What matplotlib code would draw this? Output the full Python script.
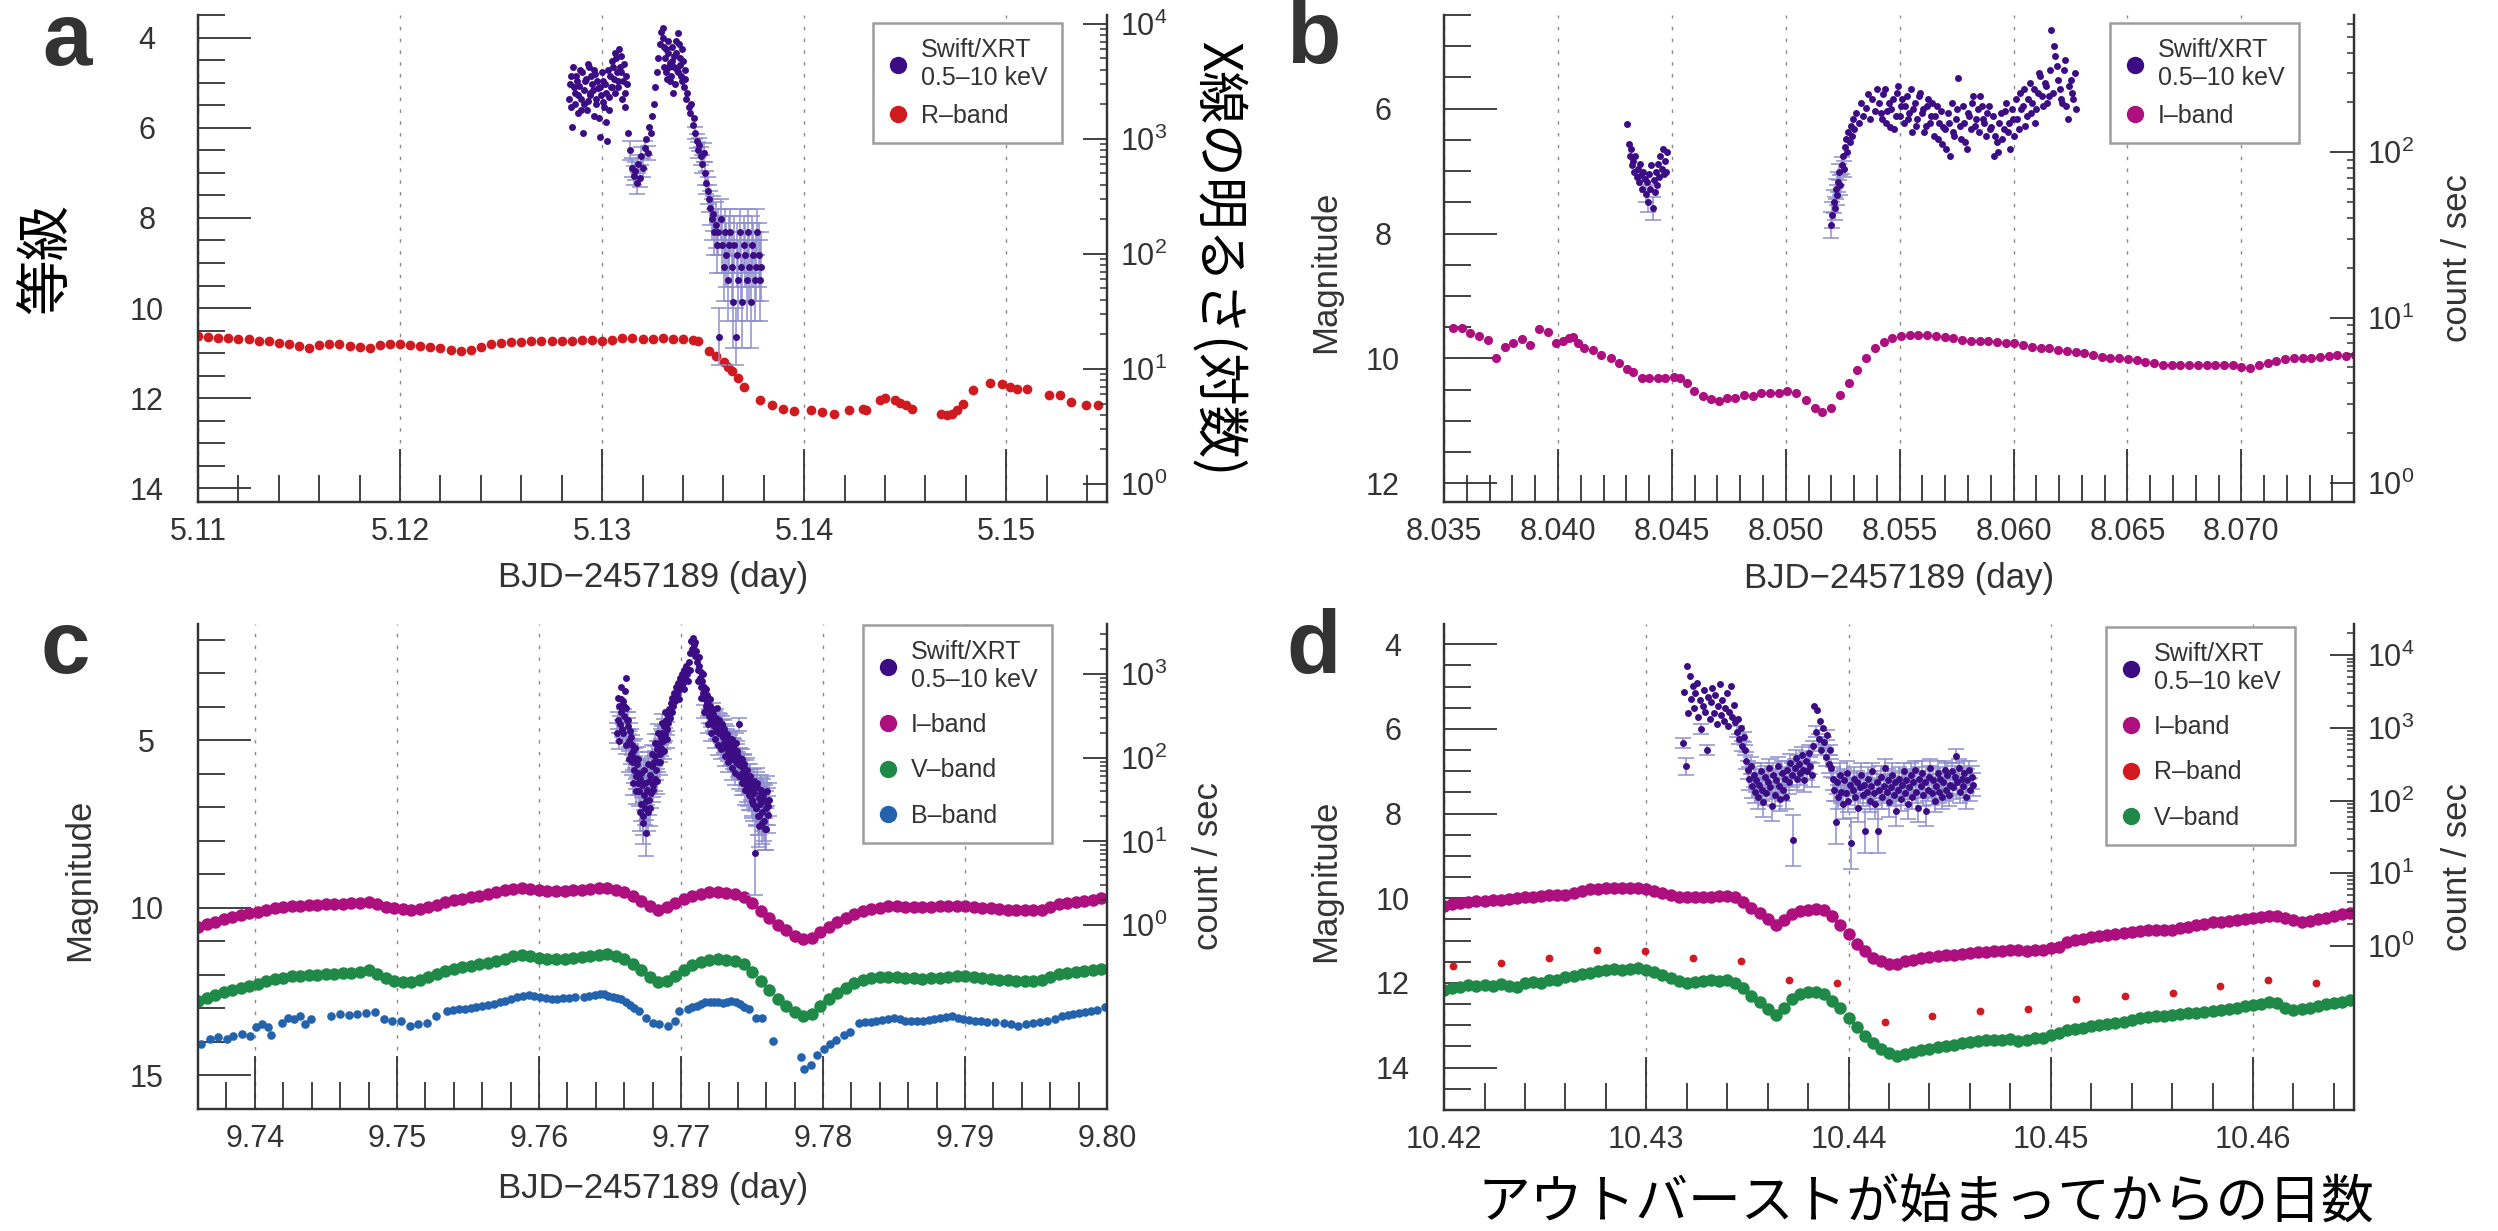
import matplotlib
matplotlib.use('Agg')
import matplotlib.pyplot as plt
import numpy as np
from matplotlib.lines import Line2D
from matplotlib.ticker import (FixedLocator, MultipleLocator, FormatStrFormatter,
                               LogFormatterSciNotation, NullFormatter)

plt.rcParams['font.family'] = ['Liberation Sans', 'DejaVu Sans']
plt.rcParams['mathtext.fontset'] = 'custom'
plt.rcParams['mathtext.rm'] = 'Liberation Sans'
plt.rcParams['mathtext.it'] = 'Liberation Sans:italic'
plt.rcParams['mathtext.bf'] = 'Liberation Sans:bold'
plt.rcParams['mathtext.default'] = 'regular'
JP = ['Noto Sans CJK JP', 'DejaVu Sans']

C_XRT = '#3b0c84'
C_ERR = '#8e8ece'
C_I = '#ad0f7f'
C_R = '#d11a1f'
C_V = '#1f8a48'
C_B = '#2362ad'
INK = '#333333'

# ---------------- panel a : R band + Swift/XRT (log10 count rate, error in dex)
a_R_t = [5.1100, 5.1105, 5.1110, 5.1115, 5.1120, 5.1125, 5.1130, 5.1135, 5.1140, 5.1145,
         5.1150, 5.1155, 5.1160, 5.1165, 5.1170, 5.1175, 5.1180, 5.1185, 5.1190, 5.1195,
         5.1200, 5.1205, 5.1210, 5.1215, 5.1220, 5.1225, 5.1230, 5.1235, 5.1240, 5.1245,
         5.1250, 5.1255, 5.1260, 5.1265, 5.1270, 5.1275, 5.1280, 5.1285, 5.1290, 5.1295,
         5.1300, 5.1305, 5.1310, 5.1315, 5.1320, 5.1325, 5.1330, 5.1335, 5.1340, 5.1345,
         5.13475, 5.13529, 5.13566, 5.13601, 5.13621, 5.13644, 5.13672, 5.13701, 5.13782, 5.13839,
         5.13897, 5.13948, 5.14032, 5.14089, 5.14147, 5.14224, 5.14290, 5.14305, 5.14376, 5.14399,
         5.14448, 5.14477, 5.14506, 5.14534, 5.14678, 5.14707, 5.14730, 5.14759, 5.14787, 5.14836,
         5.14922, 5.14980, 5.15017, 5.15052, 5.15103, 5.15210, 5.15267, 5.15319, 5.15397, 5.15454]
a_R_mag = [10.62, 10.64, 10.66, 10.67, 10.68, 10.69, 10.72, 10.74, 10.77, 10.79,
           10.84, 10.88, 10.82, 10.80, 10.80, 10.83, 10.86, 10.88, 10.81, 10.80,
           10.79, 10.81, 10.84, 10.87, 10.88, 10.92, 10.96, 10.93, 10.86, 10.80,
           10.78, 10.76, 10.75, 10.74, 10.73, 10.73, 10.72, 10.72, 10.71, 10.71,
           10.72, 10.70, 10.67, 10.66, 10.68, 10.68, 10.67, 10.68, 10.69, 10.70,
           10.74, 10.95, 11.06, 11.19, 11.30, 11.40, 11.55, 11.75, 12.04, 12.15,
           12.23, 12.29, 12.26, 12.31, 12.35, 12.25, 12.23, 12.25, 12.04, 12.00,
           12.04, 12.10, 12.15, 12.23, 12.34, 12.36, 12.34, 12.25, 12.12, 11.82,
           11.66, 11.69, 11.76, 11.80, 11.80, 11.93, 11.93, 12.09, 12.15, 12.15]

a_xrt_t = [5.12835, 5.12845, 5.12852, 5.12860, 5.12868, 5.12875, 5.12882, 5.12890, 5.12898, 5.12905,
           5.12912, 5.12920, 5.12928, 5.12935, 5.12942, 5.12950, 5.12958, 5.12965, 5.12972, 5.12980,
           5.12988, 5.12995, 5.13002, 5.13010, 5.13018, 5.13025, 5.13032, 5.13040, 5.13048, 5.13055,
           5.13062, 5.13070, 5.13078, 5.13085, 5.13092, 5.13100, 5.13108, 5.13115, 5.13122,
           5.13128, 5.13138, 5.13148, 5.13158, 5.13165, 5.13172, 5.13180, 5.13187, 5.13195, 5.13202,
           5.13210, 5.13218, 5.13225, 5.13232, 5.13240, 5.13248, 5.13255, 5.13262, 5.13270, 5.13278,
           5.13285, 5.13292, 5.13299,
           5.13305, 5.13312, 5.13318, 5.13325, 5.13332, 5.13338, 5.13345, 5.13352, 5.13358, 5.13365,
           5.13372, 5.13378, 5.13385, 5.13392, 5.13398, 5.13405, 5.13412, 5.13420, 5.13428,
           5.13435, 5.13442, 5.13448, 5.13455, 5.13462, 5.13468, 5.13475, 5.13482, 5.13488, 5.13495,
           5.13502, 5.13508, 5.13515, 5.13522, 5.13528,
           5.13535, 5.13542, 5.13548, 5.13555, 5.13562, 5.13568, 5.13575, 5.13580, 5.13588, 5.13595,
           5.13602, 5.13608, 5.13615, 5.13622, 5.13628, 5.13635, 5.13642, 5.13648, 5.13655, 5.13661,
           5.13668, 5.13675, 5.13682, 5.13688, 5.13695, 5.13702, 5.13708, 5.13715, 5.13722, 5.13728,
           5.13735, 5.13742, 5.13748, 5.13755, 5.13762, 5.13768, 5.13775, 5.13782, 5.13788]
a_xrt_log = [3.35, 3.55, 3.10, 3.45, 3.30, 3.50, 3.38, 3.60, 3.25, 3.05,
             3.42, 3.52, 3.33, 3.62, 3.40, 3.48, 3.20, 3.56, 3.30, 3.44,
             3.02, 3.38, 3.50, 3.28, 3.15, 2.98, 3.36, 3.55, 3.45, 3.62,
             3.40, 3.70, 3.50, 3.78, 3.58, 3.35, 3.65, 3.28, 3.48,
             3.05, 2.90, 2.75, 2.68, 2.72, 2.62, 2.78, 2.66, 2.85, 2.75,
             2.92, 3.00, 2.88, 3.10, 3.05, 3.20, 3.30, 3.45, 3.58, 3.70,
             3.82, 3.93, 3.96,
             3.80, 3.70, 3.58, 3.75, 3.62, 3.50, 3.68, 3.40, 3.72, 3.85,
             3.60, 3.92, 3.70, 3.55, 3.78, 3.45, 3.60, 3.40, 3.28,
             3.22, 3.30, 3.12, 3.18, 3.05, 2.98, 2.90, 2.95, 2.85, 2.78,
             2.88, 2.70, 2.62, 2.55, 2.48,
             2.40, 2.30, 2.35, 2.19, 2.25, 2.08, 2.19, 1.28, 2.30, 2.08,
             1.89, 2.19, 1.99, 1.77, 2.08, 2.19, 1.89, 1.58, 2.08, 1.28,
             1.99, 1.77, 2.19, 1.89, 1.58, 2.08, 1.99, 1.77, 2.19, 1.89,
             1.58, 2.08, 1.99, 1.77, 1.89, 2.19, 1.99, 1.77, 1.89]
a_xrt_err = [0] * 39 + [
             0, .08, .08, .08, .08, .10, .08, .08, .08, .08,
             .06, 0, .06, 0, 0, 0, 0, 0, 0, 0,
             0, 0, 0] + [0] * 19 + [
             0, 0, 0, 0, .05, .06, .07, .06, .08, .08,
             .08, .10, .10, .12, .12,
             .15, .18, .15, .20, .20, .25, .20, .25, .18, .25,
             .30, .20, .28, .35, .25, .20, .30, .40, .25, .25,
             .28, .35, .20, .30, .40, .25, .28, .35, .20, .30,
             .40, .25, .28, .35, .30, .20, .28, .35, .30]
# second read of the densest (bright) part of the panel-a cloud
a_xrt2_t = [5.12840, 5.12848, 5.12856, 5.12864, 5.12871, 5.12879, 5.12886, 5.12894, 5.12901, 5.12909,
            5.12916, 5.12924, 5.12931, 5.12939, 5.12946, 5.12954, 5.12961, 5.12969, 5.12976, 5.12984,
            5.12991, 5.12999, 5.13006, 5.13014, 5.13021, 5.13029, 5.13036, 5.13044, 5.13051, 5.13059,
            5.13066, 5.13074, 5.13081, 5.13089, 5.13096, 5.13104, 5.13111, 5.13119,
            5.13302, 5.13308, 5.13315, 5.13322, 5.13328, 5.13335, 5.13342, 5.13348, 5.13355, 5.13362,
            5.13368, 5.13375, 5.13382, 5.13388, 5.13395, 5.13402, 5.13408, 5.13415]
a_xrt2_log = [3.48, 3.28, 3.62, 3.40, 3.55, 3.22, 3.46, 3.35, 3.58, 3.30,
              3.50, 3.25, 3.65, 3.38, 3.55, 3.42, 3.60, 3.35, 3.50, 3.18,
              3.45, 3.58, 3.32, 3.48, 3.40, 3.60, 3.25, 3.45, 3.68, 3.52,
              3.75, 3.58, 3.45, 3.62, 3.72, 3.50, 3.40, 3.55,
              3.88, 3.62, 3.78, 3.52, 3.85, 3.66, 3.55, 3.80, 3.62, 3.48,
              3.75, 3.58, 3.82, 3.64, 3.50, 3.68, 3.52, 3.35]
a_xrt2_err = [0] * 56

# ---------------- panel b : I band + Swift/XRT
b_I_t = [8.03538, 8.03577, 8.03615, 8.03653, 8.03692, 8.03730, 8.03766, 8.03804, 8.03840, 8.03878,
         8.03916, 8.03955, 8.03993, 8.04024, 8.04049, 8.04067, 8.04088, 8.04113, 8.04152, 8.04190,
         8.04233, 8.04266, 8.04305, 8.04330, 8.04369, 8.04399, 8.04438, 8.04471, 8.04509, 8.04535,
         8.04568, 8.04599, 8.04637, 8.04670, 8.04706, 8.04744, 8.04777, 8.04816, 8.04854, 8.04892,
         8.04931, 8.04969, 8.05007, 8.05046, 8.05089, 8.05127, 8.05161, 8.05199, 8.05237, 8.05276,
         8.05314, 8.05352, 8.05391, 8.05429, 8.05467, 8.05506, 8.05544, 8.05582, 8.05621, 8.05659,
         8.05697, 8.05736, 8.05774, 8.05812, 8.05851, 8.05889, 8.05927, 8.05965, 8.06004, 8.06042,
         8.06080, 8.06119, 8.06157, 8.06195, 8.06234, 8.06272, 8.06310, 8.06349, 8.06387, 8.06425,
         8.06464, 8.06502, 8.06540, 8.06579, 8.06617, 8.06655, 8.06694, 8.06732, 8.06770, 8.06809,
         8.06847, 8.06885, 8.06924, 8.06962, 8.07000, 8.07039, 8.07077, 8.07115, 8.07154, 8.07192,
         8.07230, 8.07269, 8.07307, 8.07345, 8.07384, 8.07422, 8.07460, 8.07498]
b_I_mag = [9.51, 9.52, 9.60, 9.64, 9.71, 10.00, 9.82, 9.76, 9.69, 9.79,
           9.53, 9.57, 9.75, 9.72, 9.68, 9.65, 9.76, 9.83, 9.87, 9.95,
           10.00, 10.08, 10.17, 10.22, 10.31, 10.31, 10.32, 10.31, 10.29, 10.32,
           10.40, 10.52, 10.60, 10.65, 10.69, 10.64, 10.63, 10.59, 10.60, 10.56,
           10.56, 10.55, 10.53, 10.56, 10.67, 10.79, 10.86, 10.79, 10.59, 10.40,
           10.19, 9.99, 9.84, 9.74, 9.68, 9.64, 9.63, 9.63, 9.63, 9.64,
           9.66, 9.68, 9.71, 9.72, 9.72, 9.72, 9.73, 9.75, 9.76, 9.79,
           9.81, 9.83, 9.84, 9.87, 9.88, 9.89, 9.92, 9.95, 9.97, 9.99,
           10.00, 10.01, 10.03, 10.05, 10.08, 10.10, 10.11, 10.11, 10.11, 10.11,
           10.10, 10.11, 10.10, 10.11, 10.13, 10.15, 10.11, 10.08, 10.04, 10.01,
           10.00, 9.99, 9.99, 9.97, 9.96, 9.95, 9.96, 9.95]

b_xrt_t = [8.04305, 8.04310, 8.04315, 8.04320, 8.04325, 8.04330, 8.04335, 8.04340, 8.04345, 8.04350,
           8.04355, 8.04360, 8.04365, 8.04370, 8.04375, 8.04380, 8.04385, 8.04390, 8.04395, 8.04400,
           8.04405, 8.04410, 8.04415, 8.04420, 8.04425, 8.04430, 8.04435, 8.04440, 8.04445, 8.04450,
           8.04455, 8.04460, 8.04465, 8.04470, 8.04475, 8.04480,
           8.05200, 8.05205, 8.05210, 8.05215, 8.05220, 8.05225, 8.05230, 8.05235, 8.05240, 8.05245,
           8.05250, 8.05255, 8.05260, 8.05265, 8.05270, 8.05275, 8.05280, 8.05285, 8.05290, 8.05295,
           8.05300, 8.05310, 8.05320, 8.05330, 8.05340, 8.05350, 8.05360, 8.05370, 8.05380, 8.05390,
           8.05400,
           8.05410, 8.05422, 8.05434, 8.05446, 8.05458, 8.05470, 8.05482, 8.05494, 8.05506, 8.05518,
           8.05530, 8.05542, 8.05554, 8.05566, 8.05578, 8.05590, 8.05602, 8.05614, 8.05626, 8.05638,
           8.05650, 8.05662, 8.05674, 8.05686, 8.05698, 8.05710, 8.05722, 8.05734, 8.05746, 8.05758,
           8.05770, 8.05782, 8.05794, 8.05806, 8.05818, 8.05830, 8.05842, 8.05854, 8.05866, 8.05878,
           8.05890, 8.05902, 8.05914, 8.05926, 8.05938, 8.05950, 8.05962, 8.05974, 8.05986, 8.05998,
           8.06010, 8.06022, 8.06034, 8.06046, 8.06058, 8.06070, 8.06082, 8.06094, 8.06106, 8.06118,
           8.06130, 8.06142, 8.06154, 8.06166, 8.06178, 8.06190, 8.06202, 8.06214, 8.06226, 8.06238,
           8.06250, 8.06262, 8.06274]
b_xrt_log = [2.17, 2.05, 1.98, 2.02, 1.92, 1.95, 1.88, 1.98, 1.85, 1.90,
             1.82, 1.93, 1.86, 1.78, 1.88, 1.84, 1.75, 1.82, 1.70, 1.87,
             1.78, 1.92, 1.66, 1.83, 1.76, 1.88, 1.80, 1.93, 1.85, 1.98,
             1.90, 2.02, 1.87, 1.95, 1.88, 2.00,
             1.56, 1.62, 1.70, 1.66, 1.78, 1.74, 1.82, 1.88, 1.80, 1.92,
             1.98, 1.90, 2.03, 2.08, 2.00, 2.12, 2.06, 2.16, 2.10, 2.20,
             2.14, 2.24, 2.18, 2.30, 2.22, 2.27, 2.35, 2.20, 2.32, 2.25,
             2.38,
             2.30, 2.20, 2.38, 2.25, 2.15, 2.32, 2.22, 2.40, 2.28, 2.18,
             2.34, 2.24, 2.12, 2.30, 2.20, 2.36, 2.26, 2.16, 2.32, 2.22,
             2.10, 2.28, 2.18, 2.05, 2.14, 2.24, 1.98, 2.12, 2.20, 2.45,
             2.08, 2.18, 2.02, 2.22, 2.30, 2.16, 2.26, 2.34, 2.20, 2.10,
             2.28, 2.15, 1.98, 2.06, 2.18, 2.08, 2.25, 2.12, 2.02, 2.20,
             2.32, 2.14, 2.26, 2.38, 2.22, 2.42, 2.30, 2.18, 2.36, 2.46,
             2.28, 2.40, 2.34, 2.74, 2.64, 2.52, 2.38, 2.30, 2.56, 2.20,
             2.44, 2.32, 2.26]
b_xrt_err = [0] * 16 + [.05, 0, .06, 0, 0, 0, .07] + [0] * 13 + [
             .08, .08, .07, .07, .06, .06, .06, .05, .06, .05, 0, .05] + [0] * 19 + [0] * 73
# second read of the plateau cloud
b_xrt2_t = [8.05416, 8.05428, 8.05440, 8.05452, 8.05464, 8.05476, 8.05488, 8.05500, 8.05512, 8.05524,
            8.05536, 8.05548, 8.05560, 8.05572, 8.05584, 8.05596, 8.05608, 8.05620, 8.05632, 8.05644,
            8.05656, 8.05668, 8.05680, 8.05692, 8.05704, 8.05716, 8.05728, 8.05740, 8.05752, 8.05764,
            8.05776, 8.05788, 8.05800, 8.05812, 8.05824, 8.05836, 8.05848, 8.05860, 8.05872, 8.05884,
            8.05896, 8.05908, 8.05920, 8.05932, 8.05944, 8.05956, 8.05968, 8.05980, 8.05992, 8.06004,
            8.06016, 8.06028, 8.06040, 8.06052, 8.06064, 8.06076, 8.06088, 8.06100, 8.06112, 8.06124,
            8.06136, 8.06148, 8.06160, 8.06172, 8.06184, 8.06196, 8.06208, 8.06220, 8.06232, 8.06244,
            8.06256, 8.06268]
b_xrt2_log = [2.24, 2.35, 2.18, 2.30, 2.26, 2.14, 2.36, 2.22, 2.32, 2.28,
              2.20, 2.38, 2.26, 2.16, 2.34, 2.24, 2.12, 2.28, 2.18, 2.30,
              2.22, 2.08, 2.25, 2.15, 2.02, 2.18, 2.30, 2.10, 2.26, 2.16,
              2.28, 2.06, 2.24, 2.14, 2.34, 2.20, 2.12, 2.28, 2.18, 2.24,
              2.14, 2.22, 2.10, 2.00, 2.24, 2.14, 2.30, 2.18, 2.26, 2.10,
              2.20, 2.36, 2.28, 2.16, 2.32, 2.24, 2.38, 2.26, 2.48, 2.34,
              2.42, 2.30, 2.50, 2.36, 2.58, 2.44, 2.32, 2.50, 2.28, 2.40,
              2.36, 2.48]
b_xrt2_err = [0] * 72

# ---------------- panel c : I, V, B bands + Swift/XRT
c_t = [9.7360, 9.7366, 9.7372, 9.7378, 9.7384, 9.7390, 9.7396, 9.7402, 9.7408, 9.7414,
       9.7420, 9.7426, 9.7432, 9.7438, 9.7444, 9.7450, 9.7456, 9.7462, 9.7468, 9.7474,
       9.7480, 9.7486, 9.7492, 9.7498, 9.7504, 9.7510, 9.7516, 9.7522, 9.7528, 9.7534,
       9.7540, 9.7546, 9.7552, 9.7558, 9.7564, 9.7570, 9.7576, 9.7582, 9.7588, 9.7594,
       9.7600, 9.7606, 9.7612, 9.7618, 9.7624, 9.7630, 9.7636, 9.7642, 9.7648, 9.7654,
       9.7660, 9.7666, 9.7672, 9.7678, 9.7684, 9.7690, 9.7696, 9.7702, 9.7708, 9.7714,
       9.7720, 9.7726, 9.7732, 9.7738, 9.7744, 9.7750, 9.7756, 9.7762, 9.7768, 9.7774,
       9.7780, 9.7786, 9.7792, 9.7798, 9.7804, 9.7810, 9.7816, 9.7822, 9.7828, 9.7834,
       9.7840, 9.7846, 9.7852, 9.7858, 9.7864, 9.7870, 9.7876, 9.7882, 9.7888, 9.7894,
       9.7900, 9.7906, 9.7912, 9.7918, 9.7924, 9.7930, 9.7936, 9.7942, 9.7948, 9.7954,
       9.7960, 9.7966, 9.7972, 9.7978, 9.7984, 9.7990, 9.7996]
c_I_mag = [10.56, 10.49, 10.41, 10.34, 10.26, 10.21, 10.16, 10.12, 10.06, 10.00,
           9.97, 9.95, 9.93, 9.91, 9.90, 9.89, 9.88, 9.88, 9.86, 9.85,
           9.83, 9.88, 9.96, 10.00, 10.03, 10.07, 10.03, 9.98, 9.90, 9.82,
           9.77, 9.72, 9.68, 9.64, 9.60, 9.54, 9.48, 9.44, 9.41, 9.43,
           9.46, 9.49, 9.51, 9.49, 9.47, 9.46, 9.44, 9.42, 9.42, 9.47,
           9.53, 9.65, 9.79, 9.94, 10.06, 9.98, 9.85, 9.73, 9.64, 9.58,
           9.54, 9.53, 9.55, 9.58, 9.67, 9.86, 10.10, 10.30, 10.50, 10.67,
           10.83, 10.93, 10.90, 10.72, 10.56, 10.41, 10.29, 10.18, 10.10, 10.03,
           9.99, 9.95, 9.94, 9.96, 9.97, 9.97, 9.96, 9.95, 9.93, 9.94,
           9.95, 9.97, 9.99, 10.01, 10.03, 10.05, 10.06, 10.07, 10.06, 10.05,
           9.97, 9.89, 9.85, 9.81, 9.78, 9.75, 9.70]
c_V_mag = [12.77, 12.69, 12.60, 12.52, 12.44, 12.39, 12.33, 12.27, 12.19, 12.12,
           12.08, 12.04, 12.02, 12.01, 12.00, 11.98, 11.96, 11.95, 11.93, 11.91,
           11.86, 11.98, 12.10, 12.17, 12.20, 12.21, 12.16, 12.07, 11.98, 11.88,
           11.83, 11.77, 11.72, 11.68, 11.65, 11.58, 11.51, 11.45, 11.40, 11.44,
           11.49, 11.52, 11.53, 11.51, 11.48, 11.46, 11.44, 11.41, 11.39, 11.45,
           11.52, 11.66, 11.86, 12.05, 12.21, 12.18, 12.03, 11.86, 11.70, 11.61,
           11.56, 11.53, 11.54, 11.57, 11.68, 11.90, 12.18, 12.45, 12.72, 12.92,
           13.10, 13.23, 13.16, 12.92, 12.73, 12.53, 12.38, 12.25, 12.16, 12.10,
           12.05, 12.05, 12.07, 12.08, 12.10, 12.11, 12.10, 12.08, 12.06, 12.04,
           12.03, 12.06, 12.09, 12.11, 12.14, 12.16, 12.17, 12.18, 12.17, 12.16,
           12.07, 11.98, 11.95, 11.92, 11.89, 11.86, 11.83]
c_B_t = [9.73620, 9.73682, 9.73743, 9.73804, 9.73845, 9.73906, 9.73967, 9.74008, 9.74049, 9.74090,
         9.74110, 9.74192, 9.74233, 9.74273, 9.74314, 9.74355, 9.74396, 9.74539, 9.74600, 9.74661,
         9.74722, 9.74784, 9.74845, 9.74906, 9.74967, 9.75029, 9.75090, 9.75151, 9.75212, 9.75273,
         9.75355, 9.75437, 9.75518, 9.75600, 9.75682, 9.75763, 9.75845, 9.75927, 9.76008, 9.76090,
         9.76171, 9.76253, 9.76314, 9.76396, 9.76457, 9.76518, 9.76580, 9.76641, 9.76702, 9.76751,
         9.76804, 9.76845, 9.76906, 9.76955, 9.76988, 9.77049, 9.77110, 9.77171, 9.77233, 9.77294,
         9.77355, 9.77416, 9.77478, 9.77527, 9.77567, 9.77649, 9.77845, 9.77865, 9.77918, 9.77959,
         9.78008, 9.78049, 9.78090, 9.78151, 9.78192, 9.78253, 9.78335, 9.78416, 9.78498, 9.78580,
         9.78661, 9.78743, 9.78824, 9.78906, 9.78988, 9.79069, 9.79151, 9.79273, 9.79376, 9.79478,
         9.79580, 9.79682, 9.79763, 9.79845, 9.79927, 9.79988,
         9.75396, 9.75478, 9.75559, 9.75641, 9.75723, 9.75804, 9.75886, 9.75967, 9.76049, 9.76130,
         9.76212, 9.76355, 9.76427, 9.76488, 9.76549, 9.76610, 9.76672, 9.77080, 9.77141, 9.77202,
         9.77263, 9.77325, 9.77386, 9.77447, 9.78294, 9.78376, 9.78457, 9.78539, 9.78620, 9.78702,
         9.78784, 9.78865, 9.78947, 9.79029, 9.79110, 9.79212, 9.79325, 9.79427, 9.79529, 9.79631,
         9.79722, 9.79804, 9.79886]
c_B_mag = [14.06, 13.91, 13.86, 13.91, 13.81, 13.76, 13.81, 13.56, 13.47, 13.56,
           13.79, 13.42, 13.27, 13.32, 13.23, 13.47, 13.32, 13.23, 13.18, 13.21,
           13.18, 13.14, 13.12, 13.32, 13.37, 13.37, 13.51, 13.47, 13.42, 13.23,
           13.07, 13.02, 13.00, 12.92, 12.87, 12.77, 12.67, 12.60, 12.67, 12.72,
           12.70, 12.67, 12.67, 12.60, 12.57, 12.67, 12.72, 12.90, 13.07, 13.27,
           13.42, 13.47, 13.51, 13.37, 13.07, 13.02, 12.92, 12.82, 12.80, 12.84,
           12.77, 12.87, 13.02, 13.27, 13.27, 13.96, 14.46, 14.80, 14.70, 14.39,
           14.21, 14.06, 13.93, 13.79, 13.71, 13.42, 13.40, 13.34, 13.27, 13.37,
           13.37, 13.34, 13.27, 13.24, 13.31, 13.37, 13.40, 13.42, 13.51, 13.42,
           13.37, 13.24, 13.18, 13.12, 13.04, 12.97,
           13.05, 13.01, 12.96, 12.90, 12.82, 12.72, 12.63, 12.64, 12.70, 12.71,
           12.69, 12.64, 12.58, 12.62, 12.70, 12.80, 12.98, 12.97, 12.87, 12.81,
           12.82, 12.80, 12.82, 12.95, 13.41, 13.37, 13.30, 13.32, 13.37, 13.36,
           13.30, 13.25, 13.28, 13.34, 13.38, 13.41, 13.47, 13.47, 13.40, 13.30,
           13.21, 13.15, 13.08]

c_xrt_t = [9.76550, 9.76556, 9.76562, 9.76568, 9.76574, 9.76580, 9.76586, 9.76592, 9.76598, 9.76604,
           9.76610, 9.76616, 9.76622, 9.76628, 9.76634, 9.76640, 9.76646, 9.76652, 9.76658, 9.76664,
           9.76670, 9.76676, 9.76682, 9.76688, 9.76694, 9.76700, 9.76706, 9.76712, 9.76718, 9.76724,
           9.76730, 9.76736, 9.76742, 9.76748, 9.76754, 9.76760, 9.76766, 9.76772, 9.76778, 9.76784,
           9.76790, 9.76796, 9.76802, 9.76808, 9.76814, 9.76820, 9.76826, 9.76832, 9.76838, 9.76844,
           9.76850, 9.76856, 9.76862, 9.76868, 9.76874, 9.76880, 9.76886, 9.76892, 9.76898, 9.76904,
           9.76910, 9.76916, 9.76922, 9.76928, 9.76934, 9.76940, 9.76946, 9.76952, 9.76958, 9.76964,
           9.76970, 9.76976, 9.76982, 9.76988, 9.76994, 9.77000, 9.77006, 9.77012, 9.77018, 9.77024,
           9.77030, 9.77036, 9.77042, 9.77048, 9.77054, 9.77060, 9.77066, 9.77072, 9.77078, 9.77084,
           9.77090, 9.77096, 9.77102, 9.77108, 9.77114, 9.77120, 9.77126, 9.77132, 9.77138, 9.77144,
           9.77150, 9.77156, 9.77162, 9.77168, 9.77174, 9.77180, 9.77186, 9.77192, 9.77198, 9.77204,
           9.77210, 9.77216, 9.77222, 9.77228, 9.77234, 9.77240, 9.77246, 9.77252, 9.77258, 9.77264,
           9.77270, 9.77276, 9.77282, 9.77288, 9.77294, 9.77300, 9.77306, 9.77312, 9.77318, 9.77324,
           9.77330, 9.77336, 9.77342, 9.77348, 9.77354, 9.77360, 9.77366, 9.77372, 9.77378, 9.77384,
           9.77390, 9.77396, 9.77402, 9.77408, 9.77414, 9.77420, 9.77426, 9.77432, 9.77438, 9.77444,
           9.77450, 9.77456, 9.77462, 9.77468, 9.77474, 9.77480, 9.77486, 9.77492, 9.77498, 9.77504,
           9.77510, 9.77516, 9.77522, 9.77528, 9.77534, 9.77540, 9.77546, 9.77552, 9.77558, 9.77564,
           9.77570, 9.77576, 9.77582, 9.77588, 9.77594, 9.77600, 9.77606, 9.77612, 9.77618]
c_xrt_log = [2.30, 2.45, 2.62, 2.40, 2.70, 2.55, 2.35, 2.68, 2.50, 2.80, 2.60, 2.95, 2.45,
             2.38, 2.20, 2.32, 2.05, 2.15, 1.95, 2.08, 1.85, 2.00, 1.78, 1.92, 1.70, 1.82,
             1.60, 1.75, 1.45, 1.68, 1.30, 1.55, 1.85, 1.40, 1.10, 1.62,
             1.35, 1.72, 1.50, 1.80, 1.58, 1.90, 1.68, 1.95, 1.75, 2.02,
             1.85, 2.10, 1.95, 2.18, 2.05, 2.25, 2.12, 2.30, 2.20, 2.38, 2.28, 2.45, 2.35, 2.52,
             2.42, 2.58, 2.48,
             2.65, 2.55, 2.72, 2.62, 2.78, 2.68, 2.85, 2.75, 2.90, 2.80, 2.70, 2.95, 2.85, 3.00,
             2.90, 2.82, 3.05, 2.95, 3.10, 3.00, 2.92, 3.15, 3.05,
             3.25, 3.40, 3.30, 3.43, 3.35, 3.22, 3.38, 3.28,
             3.15, 3.05, 3.10, 2.95, 3.02, 2.85, 2.92, 2.78, 2.85, 2.70, 2.62, 2.75, 2.65, 2.58,
             2.50, 2.62, 2.45, 2.55, 2.40, 2.52, 2.38, 2.48, 2.32, 2.60, 2.42, 2.30, 2.45, 2.35,
             2.28, 2.40, 2.25,
             2.35, 2.18, 2.30, 2.12, 2.25, 2.08, 2.20, 2.02, 2.15, 2.05, 2.22, 1.98, 2.10, 2.00,
             2.18, 1.95, 2.08, 1.92, 2.40, 2.00,
             1.90, 1.82, 1.98, 1.75, 1.88, 1.70, 1.82, 1.65, 1.78, 1.60, 1.72, 1.55, 1.68, 1.50,
             1.62, 1.45,
             1.58, 0.86, 1.40, 1.70, 1.30, 1.52, 1.18, 1.45, 1.62, 1.35, 1.55, 1.25, 1.48, 1.15,
             1.40, 1.60, 1.32, 1.50]
c_xrt_err = [.12, .10, 0, .10, 0, 0, .10, 0, .08, 0, 0, 0, .10,
             .10, .12, .10, .12, .12, .15, .12, .15, .12, .15, .15, .15, .15,
             .18, .15, .20, .15, .22, .18, .15, .20, .28, .18,
             .22, .15, .18, .15, .18, .12, .15, .12, .15, .12,
             .12, .10, .12, .10, .10, .10, .10, .08, .10, .08, .08, 0, .08, 0,
             0, 0, 0] + [0] * 45 + [
             .08, 0, .08, 0, .08, 0, .10, .08, .10, 0, .08, .10, .08, .10,
             .10, .10, .10,
             .10, .12, .10, .12, .10, .12, .10, .12, .12, .12, .10, .12, .12, .12,
             .12, .12, .12, .15, .08, .12,
             .15, .15, .12, .15, .15, .15, .15, .18, .15, .18, .15, .18, .18, .20,
             .18, .20,
             .18, .50, .20, .18, .22, .20, .25, .20, .18, .22, .20, .25, .20, .25,
             .20, .18, .22, .20]
# second read of the scattered wings of the panel-c cloud
c_xrt2_t = [9.76553, 9.76565, 9.76577, 9.76589, 9.76601, 9.76613, 9.76625, 9.76637, 9.76649, 9.76661,
            9.76673, 9.76685, 9.76697, 9.76709, 9.76721, 9.76733, 9.76745, 9.76757, 9.76769, 9.76781,
            9.76793, 9.76805, 9.76817, 9.76829, 9.76841, 9.76853, 9.76865, 9.76877, 9.76889, 9.76901,
            9.77117, 9.77129, 9.77141, 9.77153, 9.77165, 9.77177, 9.77189, 9.77201, 9.77213, 9.77225,
            9.77237, 9.77249, 9.77261, 9.77273, 9.77285, 9.77297, 9.77309, 9.77321, 9.77333, 9.77345,
            9.77357, 9.77369, 9.77381, 9.77393, 9.77405, 9.77417, 9.77429, 9.77441, 9.77453, 9.77465,
            9.77477, 9.77489, 9.77501, 9.77513, 9.77525, 9.77537, 9.77549, 9.77561, 9.77573, 9.77585,
            9.77597, 9.77609]
c_xrt2_log = [2.72, 2.20, 2.85, 2.30, 2.62, 2.15, 2.45, 1.98, 2.25, 1.70,
              2.12, 1.60, 1.98, 1.35, 1.82, 1.22, 1.70, 1.48, 1.92, 1.40,
              2.05, 1.62, 2.18, 1.72, 2.30, 1.95, 2.42, 2.08, 2.55, 2.22,
              2.92, 3.20, 2.72, 3.00, 2.55, 2.82, 2.40, 2.70, 2.30, 2.58,
              2.22, 2.48, 2.15, 2.42, 2.10, 2.36, 2.02, 2.28, 1.95, 2.22,
              1.88, 2.12, 1.82, 2.05, 1.78, 1.98, 1.70, 1.92, 1.62, 1.85,
              1.55, 1.78, 1.48, 1.72, 1.40, 1.65, 1.30, 1.58, 1.22, 1.50,
              1.15, 1.42]
c_xrt2_err = [0, .10, 0, .10, 0, .10, .10, .15, .10, .15,
              .10, .15, .15, .22, .15, .25, .15, .22, .15, .22,
              .10, .15, .10, .15, .10, .15, .10, .10, 0, .10,
              0, 0, 0, 0, .08, 0, .10, 0, .10, .08,
              .10, .10, .12, .10, .12, .10, .12, .10, .12, .10,
              .15, .12, .15, .12, .15, .12, .15, .12, .18, .15,
              .18, .15, .20, .15, .22, .18, .22, .18, .25, .20,
              .25, .22]

# ---------------- panel d : I, R, V bands + Swift/XRT
d_t = [10.4200, 10.4204, 10.4208, 10.4212, 10.4216, 10.4220, 10.4224, 10.4228, 10.4232, 10.4236,
       10.4240, 10.4244, 10.4248, 10.4252, 10.4256, 10.4260, 10.4264, 10.4268, 10.4272, 10.4276,
       10.4280, 10.4284, 10.4288, 10.4292, 10.4296, 10.4300, 10.4304, 10.4308, 10.4312, 10.4316,
       10.4320, 10.4324, 10.4328, 10.4332, 10.4336, 10.4340, 10.4344, 10.4348, 10.4352, 10.4356,
       10.4360, 10.4364, 10.4368, 10.4372, 10.4376, 10.4380, 10.4384, 10.4388, 10.4392, 10.4396,
       10.4400, 10.4404, 10.4408, 10.4412, 10.4416, 10.4420, 10.4424, 10.4428, 10.4432, 10.4436,
       10.4440, 10.4444, 10.4448, 10.4452, 10.4456, 10.4460, 10.4464, 10.4468, 10.4472, 10.4476,
       10.4480, 10.4484, 10.4488, 10.4492, 10.4496, 10.4500, 10.4504, 10.4508, 10.4512, 10.4516,
       10.4520, 10.4524, 10.4528, 10.4532, 10.4536, 10.4540, 10.4544, 10.4548, 10.4552, 10.4556,
       10.4560, 10.4564, 10.4568, 10.4572, 10.4576, 10.4580, 10.4584, 10.4588, 10.4592, 10.4596,
       10.4600, 10.4604, 10.4608, 10.4612, 10.4616, 10.4620, 10.4624, 10.4628, 10.4632, 10.4636,
       10.4640, 10.4644, 10.4648]
d_I_mag = [10.17, 10.14, 10.11, 10.09, 10.07, 10.06, 10.05, 10.04, 10.02, 10.00,
           9.98, 9.97, 9.95, 9.93, 9.92, 9.91, 9.87, 9.82, 9.79, 9.77,
           9.76, 9.75, 9.75, 9.75, 9.75, 9.77, 9.82, 9.87, 9.92, 9.96,
           9.98, 9.98, 9.97, 9.96, 9.95, 9.95, 9.97, 10.09, 10.22, 10.34,
           10.49, 10.62, 10.52, 10.36, 10.30, 10.28, 10.25, 10.27, 10.42, 10.63,
           10.85, 11.07, 11.25, 11.41, 11.49, 11.54, 11.55, 11.49, 11.45, 11.42,
           11.39, 11.37, 11.35, 11.33, 11.31, 11.29, 11.27, 11.26, 11.24, 11.24,
           11.23, 11.23, 11.24, 11.23, 11.21, 11.18, 11.14, 11.04, 10.98, 10.95,
           10.92, 10.90, 10.87, 10.85, 10.83, 10.80, 10.77, 10.74, 10.75, 10.76,
           10.75, 10.71, 10.67, 10.63, 10.60, 10.57, 10.55, 10.53, 10.51, 10.49,
           10.47, 10.45, 10.42, 10.41, 10.47, 10.52, 10.56, 10.53, 10.50, 10.46,
           10.41, 10.37, 10.35]
d_V_mag = [12.17, 12.12, 12.10, 12.05, 12.08, 12.04, 12.07, 12.02, 12.06, 12.10,
           12.00, 11.97, 11.99, 11.94, 11.92, 11.86, 11.84, 11.79, 11.76, 11.72,
           11.70, 11.68, 11.69, 11.66, 11.64, 11.70, 11.74, 11.82, 11.88, 11.95,
           12.00, 11.97, 11.95, 11.93, 11.95, 11.92, 11.99, 12.12, 12.30, 12.46,
           12.62, 12.76, 12.60, 12.38, 12.26, 12.21, 12.22, 12.26, 12.42, 12.60,
           12.82, 13.04, 13.25, 13.42, 13.56, 13.66, 13.72, 13.68, 13.62, 13.58,
           13.55, 13.52, 13.49, 13.46, 13.42, 13.40, 13.37, 13.35, 13.34, 13.35,
           13.33, 13.36, 13.34, 13.31, 13.29, 13.22, 13.18, 13.12, 13.09, 13.06,
           13.02, 13.00, 12.97, 12.95, 12.92, 12.88, 12.83, 12.80, 12.79, 12.78,
           12.75, 12.73, 12.72, 12.70, 12.68, 12.66, 12.63, 12.61, 12.58, 12.55,
           12.52, 12.49, 12.46, 12.47, 12.58, 12.63, 12.62, 12.60, 12.55, 12.50,
           12.47, 12.45, 12.41]
d_R_t = [10.42043, 10.42282, 10.42517, 10.42756, 10.42991, 10.43230, 10.43468, 10.43704, 10.43943, 10.44178,
         10.44414, 10.44649, 10.44888, 10.45126, 10.45365, 10.45603, 10.45839, 10.46075, 10.46310]
d_R_mag = [11.61, 11.53, 11.40, 11.23, 11.25, 11.41, 11.49, 11.92, 12.00, 12.91,
           12.79, 12.65, 12.62, 12.39, 12.31, 12.23, 12.08, 11.94, 11.99]

d_xrt_t = [10.43180, 10.43187, 10.43194, 10.43201, 10.43208, 10.43215, 10.43222, 10.43229, 10.43236, 10.43243,
           10.43250, 10.43257, 10.43264, 10.43271, 10.43278, 10.43285, 10.43292, 10.43299, 10.43306, 10.43313,
           10.43320, 10.43327, 10.43334, 10.43341, 10.43348, 10.43355, 10.43362, 10.43369, 10.43376, 10.43383,
           10.43390, 10.43397, 10.43404, 10.43411, 10.43418, 10.43425, 10.43432, 10.43439, 10.43446, 10.43453,
           10.43460, 10.43467, 10.43474, 10.43481, 10.43488, 10.43495, 10.43502, 10.43509, 10.43516, 10.43523,
           10.43530, 10.43537, 10.43544, 10.43551, 10.43558, 10.43565, 10.43572, 10.43579, 10.43586, 10.43593,
           10.43600, 10.43607, 10.43614, 10.43621, 10.43628, 10.43635, 10.43642, 10.43649, 10.43656, 10.43663,
           10.43670, 10.43677, 10.43684, 10.43691, 10.43698, 10.43705, 10.43712, 10.43719, 10.43726, 10.43733,
           10.43740, 10.43747, 10.43754, 10.43761, 10.43768, 10.43775, 10.43782, 10.43789, 10.43796, 10.43803,
           10.43810, 10.43817, 10.43824, 10.43831, 10.43838, 10.43845, 10.43852, 10.43859, 10.43866, 10.43873,
           10.43880, 10.43887, 10.43894, 10.43901, 10.43908, 10.43915, 10.43922, 10.43929, 10.43936, 10.43943,
           10.43950, 10.43957, 10.43964, 10.43971, 10.43978, 10.43985, 10.43992, 10.43999, 10.44006, 10.44013,
           10.44020, 10.44027, 10.44034, 10.44041, 10.44048, 10.44055, 10.44062, 10.44069, 10.44076, 10.44083,
           10.44090, 10.44097, 10.44104, 10.44111, 10.44118, 10.44125, 10.44132, 10.44139, 10.44146, 10.44153,
           10.44160, 10.44167, 10.44174, 10.44181, 10.44188, 10.44195, 10.44202, 10.44209, 10.44216, 10.44223,
           10.44230, 10.44237, 10.44244, 10.44251, 10.44258, 10.44265, 10.44272, 10.44279, 10.44286, 10.44293,
           10.44300, 10.44307, 10.44314, 10.44321, 10.44328, 10.44335, 10.44342, 10.44349, 10.44356, 10.44363,
           10.44370, 10.44377, 10.44384, 10.44391, 10.44398, 10.44405, 10.44412, 10.44419, 10.44426, 10.44433,
           10.44440, 10.44447, 10.44454, 10.44461, 10.44468, 10.44475, 10.44482, 10.44489, 10.44496, 10.44503,
           10.44510, 10.44517, 10.44524, 10.44531, 10.44538, 10.44545, 10.44552, 10.44559, 10.44566, 10.44573,
           10.44580, 10.44587, 10.44594, 10.44601, 10.44608, 10.44615]
d_xrt_log = [2.79, 3.50, 2.47, 3.85, 3.20, 3.71, 3.40, 3.58, 3.28, 3.48,
             3.62, 3.15, 3.38, 2.98, 3.30, 3.52, 3.22, 2.70, 3.42, 3.12,
             3.35, 3.55, 3.20, 3.45, 3.05, 3.30, 3.60, 3.18, 3.38, 3.10,
             3.28, 3.48, 3.02, 3.22, 3.58, 3.15, 3.32, 3.08, 2.95, 3.12,
             2.85, 3.00, 2.75, 2.88, 2.70, 2.55, 2.42, 2.30, 2.48, 2.20,
             2.35, 2.12, 2.28, 2.05, 2.22, 2.40, 2.15, 1.98, 2.32, 2.10,
             2.25, 2.45, 2.18, 1.92, 2.35, 2.08, 2.28, 2.48, 2.20, 2.02,
             2.38, 2.15, 2.30, 2.05, 2.42, 2.25, 2.52, 2.35, 1.45, 2.45,
             2.58, 2.30, 2.50, 2.38, 2.62, 2.42, 2.28, 2.55, 2.40, 2.65,
             2.48, 2.35, 2.75, 3.30, 2.95, 3.25, 2.85, 3.10, 2.70, 3.00,
             2.80, 2.60, 2.90, 2.50, 2.70, 2.45, 2.30, 2.15, 1.70, 2.25,
             2.05, 2.35, 2.12, 1.95, 2.28, 2.10, 2.38, 2.00, 2.22, 1.41,
             2.15, 2.30, 2.05, 2.25, 1.90, 2.18, 2.35, 2.08, 2.22, 1.58,
             2.12, 2.30, 2.00, 2.20, 2.40, 2.10, 1.95, 2.25, 1.58, 2.15,
             2.32, 2.05, 2.20, 2.45, 2.12, 2.28, 1.98, 2.18, 2.35, 2.08,
             2.25, 1.85, 2.15, 2.30, 2.02, 2.22, 2.40, 2.10, 2.28, 1.95,
             2.18, 2.35, 2.05, 2.25, 2.42, 2.12, 1.90, 2.30, 2.20, 2.38,
             2.08, 2.25, 1.85, 2.15, 2.32, 2.45, 2.10, 2.28, 2.00, 2.20,
             2.38, 2.12, 2.30, 2.05, 2.25, 2.42, 2.15, 2.35, 2.08, 2.22,
             2.40, 2.18, 2.32, 2.61, 2.25, 2.45, 2.12, 2.30, 2.20, 2.38,
             2.05, 2.28, 2.42, 2.15, 2.32, 2.22]
d_xrt_err = [.07, 0, .12, 0, 0, 0, 0, 0, 0, 0,
             0, 0, 0, .07, 0, 0, 0, .07, 0, 0,
             0, 0, 0, 0, 0, 0, 0, 0, 0, 0,
             0, 0, 0, 0, 0, 0, 0, 0, .07, 0,
             .07, 0, .07, .07, .07, .12, .12, .16, .12, .16,
             .16, .16, .16, .16, .16, .12, .16, .20, .16, .16,
             .16, .12, .16, .20, .16, .16, .16, .12, .16, .16,
             .16, .16, .16, .16, .12, .16, .12, .16, .35, .12,
             .12, .16, .12, .16, .12, .12, .16, .12, .12, .12,
             .12, .16, .07, 0, .07, 0, .07, 0, .07, 0,
             .07, .12, .07, .12, .07, .12, .16, .16, .30, .16,
             .16, .16, .16, .20, .16, .16, .16, .16, .16, .35,
             .16, .16, .16, .16, .20, .16, .16, .16, .16, .30,
             .16, .16, .16, .16, .12, .16, .20, .16, .30, .16,
             .16, .16, .16, .12, .16, .16, .20, .16, .16, .16,
             .16, .20, .16, .16, .16, .16, .12, .16, .16, .20,
             .16, .16, .16, .16, .12, .16, .20, .16, .16, .16,
             .16, .16, .20, .16, .16, .12, .16, .16, .16, .16,
             .16, .16, .16, .16, .16, .12, .16, .16, .16, .16,
             .12, .16, .16, .10, .16, .12, .16, .16, .16, .16,
             .16, .16, .12, .16, .16, .16]

XRT_LABEL = 'Swift/XRT\n0.5–10 keV'


def draw_xrt(ax2, t, lg, err):
    t = np.asarray(t)
    lg = np.asarray(lg)
    err = np.asarray(err)
    rate = 10.0 ** lg
    m = err > 0
    if m.any():
        lo = rate[m] - 10.0 ** (lg[m] - err[m])
        hi = 10.0 ** (lg[m] + err[m]) - rate[m]
        ax2.errorbar(t[m], rate[m], yerr=[lo, hi], fmt='none', ecolor=C_ERR,
                     elinewidth=1.1, capsize=6, capthick=1.1, zorder=2)
    ax2.plot(t, rate, 'o', ms=5, color=C_XRT, mec='none', zorder=3)


def style(ax, ax2, xlim, xticks, xminor, xfmt, ylim, ymajor, yminor, ypad, rlim):
    ax.set_xlim(*xlim)
    ax.set_ylim(*ylim)
    ax2.set_yscale('log')
    ax2.set_ylim(*rlim)

    ax.xaxis.set_major_locator(FixedLocator(xticks))
    ax.xaxis.set_minor_locator(MultipleLocator(xminor))
    ax.xaxis.set_major_formatter(FormatStrFormatter(xfmt))
    ax.yaxis.set_major_locator(MultipleLocator(ymajor))
    ax.yaxis.set_minor_locator(MultipleLocator(yminor))

    ax2.yaxis.set_major_locator(FixedLocator([1, 10, 100, 1000, 10000]))
    ax2.yaxis.set_minor_locator(FixedLocator([m * 10.0 ** d for d in range(0, 5) for m in range(2, 10)]))
    ax2.yaxis.set_major_formatter(LogFormatterSciNotation())
    ax2.yaxis.set_minor_formatter(NullFormatter())

    ax.tick_params(axis='x', which='major', direction='in', length=38, width=1.3, color=INK,
                   labelsize=22, labelcolor=INK, pad=11, top=False)
    ax.tick_params(axis='x', which='minor', direction='in', length=19.5, width=1.3, color=INK, top=False)
    ax.tick_params(axis='y', which='major', direction='in', length=38, width=1.3, color=INK,
                   labelsize=22, labelcolor=INK, pad=ypad, right=False)
    ax.tick_params(axis='y', which='minor', direction='in', length=19.5, width=1.3, color=INK, right=False)
    ax2.tick_params(axis='y', which='major', direction='in', length=17, width=1.3, color=INK,
                    labelsize=22, labelcolor=INK, pad=9)
    ax2.tick_params(axis='y', which='minor', direction='in', length=5, width=1.1, color=INK)
    for lab in ax.get_yticklabels():
        lab.set_horizontalalignment('center')

    for a in (ax, ax2):
        a.spines['top'].set_visible(False)
        for s in ('left', 'right', 'bottom'):
            a.spines[s].set_color(INK)
            a.spines[s].set_linewidth(1.6)

    ax.grid(True, axis='x', which='major', color='#8a8a8a', linestyle=(0, (2.5, 6)), linewidth=1.0)
    ax.set_axisbelow(True)


def labels(ax, ax2, left, right, xlab, lx, rx, xy, xlx=0.5, jp_axes=False, jp_x=False):
    if jp_axes:
        ax.set_ylabel(left, fontsize=40, family=JP, color='black', rotation=90)
        ax2.set_ylabel(right, fontsize=38, family=JP, color='black', rotation=270)
        ly = 0.5
    else:
        ax.set_ylabel(left, fontsize=25, color=INK, rotation=90)
        ax2.set_ylabel(right, fontsize=25, color=INK, rotation=90)
        ly = 0.472
    for lab in (ax.yaxis.label, ax2.yaxis.label):
        lab.set_horizontalalignment('center')
        lab.set_verticalalignment('center')
    ax.yaxis.set_label_coords(lx, ly)
    ax2.yaxis.set_label_coords(rx, 0.5)
    if jp_x:
        ax.set_xlabel(xlab, fontsize=38, family=JP, color='black')
    else:
        ax.set_xlabel(xlab, fontsize=25, color=INK)
    ax.xaxis.label.set_verticalalignment('center')
    ax.xaxis.set_label_coords(xlx, xy)


def legend(ax2, entries, x, y, spacing):
    handles = [Line2D([], [], marker='o', ls='none', ms=12.5, color=c, mec='none') for c, _ in entries]
    leg = ax2.legend(handles, [l for _, l in entries], loc='upper left', bbox_to_anchor=(x, y),
                     fontsize=18, frameon=True, fancybox=False, edgecolor='#9d9d9d', framealpha=1,
                     borderpad=0.6, handlelength=0.8, handletextpad=0.5, labelspacing=spacing,
                     borderaxespad=0, labelcolor=INK)
    leg.get_frame().set_linewidth(1.8)
    leg.set_zorder(10)


fig = plt.figure(figsize=(24.98, 12.31), dpi=100)

# ---- a
ax = fig.add_axes([0.0793, 0.5922, 0.3639, 0.3956])
ax2 = ax.twinx()
ax.plot(a_R_t, a_R_mag, 'o', ms=7.0, color=C_R, mec='none', zorder=2)
draw_xrt(ax2, a_xrt_t, a_xrt_log, a_xrt_err)
draw_xrt(ax2, a_xrt2_t, a_xrt2_log, a_xrt2_err)
style(ax, ax2, (5.11, 5.155), [5.11, 5.12, 5.13, 5.14, 5.15], 0.002, '%.2f',
      (14.3, 3.5), 2, 0.5, 37, (10 ** -0.157, 10 ** 4.076))
labels(ax, ax2, '等級', 'X線の明るさ(対数)', 'BJD−2457189 (day)', -0.167, 1.121, -0.156, jp_axes=True)
legend(ax2, [(C_XRT, XRT_LABEL), (C_R, 'R–band')], 0.7426, 0.9836, 0.55)

# ---- b
ax = fig.add_axes([0.5781, 0.5922, 0.3643, 0.3956])
ax2 = ax.twinx()
ax.plot(b_I_t, b_I_mag, 'o', ms=6.6, color=C_I, mec='none', zorder=2)
draw_xrt(ax2, b_xrt_t, b_xrt_log, b_xrt_err)
draw_xrt(ax2, b_xrt2_t, b_xrt2_log, b_xrt2_err)
style(ax, ax2, (8.035, 8.07495), [8.035, 8.040, 8.045, 8.050, 8.055, 8.060, 8.065, 8.070], 0.001, '%.3f',
      (12.3, 4.5), 2, 0.5, 44, (10 ** -0.115, 10 ** 2.83))
labels(ax, ax2, 'Magnitude', 'count / sec', 'BJD−2457189 (day)', -0.1297, 1.114, -0.158)
legend(ax2, [(C_XRT, XRT_LABEL), (C_I, 'I–band')], 0.7319, 0.9836, 0.55)

# ---- c
ax = fig.add_axes([0.0793, 0.0991, 0.3639, 0.394])
ax2 = ax.twinx()
ax.plot(c_t, c_I_mag, 'o', ms=9, color=C_I, mec='none', zorder=2)
ax.plot(c_t, c_V_mag, 'o', ms=9, color=C_V, mec='none', zorder=2)
ax.plot(c_B_t, c_B_mag, 'o', ms=6.2, color=C_B, mec='none', zorder=2)
draw_xrt(ax2, c_xrt_t, c_xrt_log, c_xrt_err)
draw_xrt(ax2, c_xrt2_t, c_xrt2_log, c_xrt2_err)
style(ax, ax2, (9.736, 9.80), [9.74, 9.75, 9.76, 9.77, 9.78, 9.79, 9.80], 0.002, '%.2f',
      (16.0, 1.53), 5, 1, 37, (10 ** -2.2, 10 ** 3.6))
labels(ax, ax2, 'Magnitude', 'count / sec', 'BJD−2457189 (day)', -0.1298, 1.111, -0.163)
legend(ax2, [(C_XRT, XRT_LABEL), (C_I, 'I–band'), (C_V, 'V–band'), (C_B, 'B–band')], 0.7316, 0.998, 0.85)

# ---- d
ax = fig.add_axes([0.5781, 0.0983, 0.3643, 0.3948])
ax2 = ax.twinx()
ax.plot(d_t, d_I_mag, 'o', ms=9, color=C_I, mec='none', zorder=2)
ax.plot(d_R_t, d_R_mag, 'o', ms=5.6, color=C_R, mec='none', zorder=2)
ax.plot(d_t, d_V_mag, 'o', ms=9, color=C_V, mec='none', zorder=2)
draw_xrt(ax2, d_xrt_t, d_xrt_log, d_xrt_err)
style(ax, ax2, (10.42, 10.465), [10.42, 10.43, 10.44, 10.45, 10.46], 0.002, '%.2f',
      (15.0, 3.52), 2, 0.5, 37, (10 ** -2.26, 10 ** 4.43))
labels(ax, ax2, 'Magnitude', 'count / sec', 'アウトバーストが始まってからの日数', -0.1297, 1.114, -0.191,
       xlx=0.529, jp_x=True)
legend(ax2, [(C_XRT, XRT_LABEL), (C_I, 'I–band'), (C_R, 'R–band'), (C_V, 'V–band')], 0.7275, 0.9938, 0.85)

# panel letters
for letter, x, y in [('a', 42, 65), ('b', 1286, 63), ('c', 40, 673), ('d', 1286, 673)]:
    fig.text(x / 2498, 1 - y / 1231, letter, fontsize=64, fontweight='bold', color=INK,
             ha='left', va='baseline')

fig.savefig('out.png', dpi=100)
